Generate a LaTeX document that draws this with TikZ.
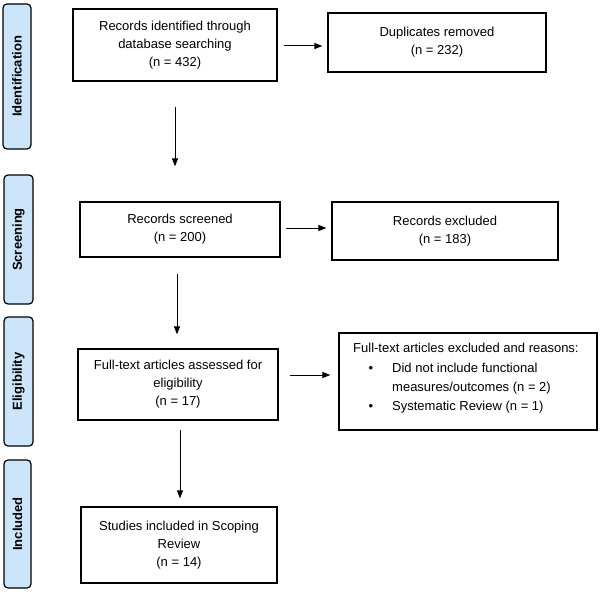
\documentclass[tikz,border=0pt]{standalone}
\usepackage{fontspec}
\setmainfont{Liberation Sans}
\usetikzlibrary{arrows.meta}
\definecolor{lblue}{RGB}{204,229,250}
\begin{document}
\begin{tikzpicture}[x=1pt,y=-1pt,
  txt/.style={font=\fontsize{13pt}{18pt}\selectfont, inner sep=0pt},
  box/.style={draw, line width=1.2pt, align=center, inner sep=2pt,
    font=\fontsize{13pt}{18pt}\selectfont},
  phase/.style={draw, line width=1.2pt, fill=lblue, rounded corners=4pt,
    rotate=90, inner sep=0pt, font=\fontsize{13pt}{18pt}\selectfont\bfseries},
  arr/.style={line width=1pt, -{Triangle[length=8pt,width=6pt]}}]
\path[use as bounding box, fill=white] (0,0) rectangle (600,594);

% phase labels
\node[phase, minimum width=145pt, minimum height=28pt] (pid) at (17,76.5) {Identification};
\node[phase, minimum width=129pt, minimum height=29pt] (psc) at (18.5,239.5) {Screening};
\node[phase, minimum width=129pt, minimum height=29pt] (pel) at (18.5,381.5) {Eligibility};
\node[phase, minimum width=128pt, minimum height=27pt] (pin) at (17.5,524) {Included};

% boxes
\node[box, minimum width=204pt, minimum height=72pt] (b1) at (175,45)
  {Records identified through\\database searching\\(n = 432)};
\node[box, minimum width=218pt, minimum height=59pt] (dup) at (437,42.5)
  {Duplicates removed\\(n = 232)};
\node[box, minimum width=200pt, minimum height=55pt] (scr) at (180,229.5)
  {Records screened\\(n = 200)};
\node[box, minimum width=226pt, minimum height=58pt] (exc) at (445,231)
  {Records excluded\\(n = 183)};
\node[box, minimum width=200pt, minimum height=71pt] (ft) at (178,384.5)
  {Full-text articles assessed for\\eligibility\\(n = 17)};
\node[box, minimum width=258pt, minimum height=97pt] (rea) at (468,381.5) {};
\node[box, minimum width=196pt, minimum height=76pt] (st) at (179,545)
  {Studies included in Scoping\\Review\\(n = 14)};

% reasons text
\node[txt, anchor=base west] (r0) at (353,352.5) {Full-text articles excluded and reasons:};
\node[txt, anchor=base] (u1) at (371,372.5) {\textbullet};
\node[txt, anchor=base west] (r1) at (392,372.5) {Did not include functional};
\node[txt, anchor=base west] (r2) at (392,391.5) {measures/outcomes (n = 2)};
\node[txt, anchor=base] (u2) at (371,410.5) {\textbullet};
\node[txt, anchor=base west] (r3) at (392,410.5) {Systematic Review (n = 1)};

% connectors
\draw[arr, shorten <=6pt, shorten >=5pt] ([yshift=-1pt]b1.east) -- ([yshift=-1pt]b1.east -| dup.west);
\draw[arr, shorten <=25pt, shorten >=35pt] (b1.south) -- (b1.south |- scr.north);
\draw[arr, shorten <=5pt, shorten >=5pt] ([yshift=1.5pt]scr.east) -- ([yshift=1.5pt]scr.east -| exc.west);
\draw[arr, shorten <=16pt, shorten >=14pt] ([xshift=-3pt]scr.south) -- ([xshift=-3pt]scr.south |- ft.north);
\draw[arr, shorten <=11pt, shorten >=8pt] ([yshift=9.5pt]ft.east) -- ([yshift=9.5pt]ft.east -| rea.west);
\draw[arr, shorten <=9pt, shorten >=8pt] ([xshift=2pt]ft.south) -- ([xshift=2pt]ft.south |- st.north);
\end{tikzpicture}
\end{document}
